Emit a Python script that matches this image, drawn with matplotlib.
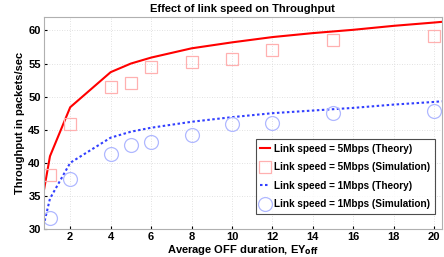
import matplotlib
matplotlib.use("Agg")
import matplotlib.pyplot as plt

# Theory curves
x_theory = [0.68, 1, 2, 4, 5, 6, 8, 10, 12, 14, 16, 18, 20, 20.37]
y5_theory = [35.5, 41.0, 48.4, 53.7, 55.0, 55.9, 57.3, 58.2, 59.0, 59.6, 60.1, 60.7, 61.2, 61.3]
y1_theory = [30.5, 34.6, 40.0, 43.8, 44.7, 45.3, 46.2, 46.9, 47.5, 47.9, 48.3, 48.8, 49.2, 49.3]

# Simulation points
x_sim = [1, 2, 4, 5, 6, 8, 10, 12, 15, 20]
y5_sim = [38.2, 45.9, 51.5, 52.1, 54.5, 55.2, 55.7, 57.1, 58.5, 59.1]
y1_sim = [31.6, 37.5, 41.3, 42.7, 43.1, 44.2, 45.9, 46.0, 47.6, 47.9]

xticks = [2, 4, 6, 8, 10, 12, 14, 16, 18, 20]
yticks = [30, 35, 40, 45, 50, 55, 60]

plt.rcParams['font.family'] = ['Liberation Sans', 'DejaVu Sans']
plt.rcParams['font.weight'] = 'bold'

fig = plt.figure(figsize=(4.44, 2.57), dpi=100)
ax = fig.add_axes([0.098, 0.109, 0.897, 0.824])

ax.plot(x_theory, y5_theory, color='#ff0000', lw=1.5, label='Link speed = 5Mbps (Theory)')
ax.plot(x_sim, y5_sim, ls='none', marker='s', ms=8, mfc='none', mec='#ffb0b0', mew=0.9,
        label='Link speed = 5Mbps (Simulation)')
ax.plot(x_theory, y1_theory, color='#3340ff', lw=1.5, ls=(0, (1.2, 1.2)), label='Link speed = 1Mbps (Theory)')
ax.plot(x_sim, y1_sim, ls='none', marker='o', ms=10, mfc='none', mec='#b0b8ff', mew=0.9,
        label='Link speed = 1Mbps (Simulation)')

ax.set_xlim(0.68, 20.37)
ax.set_ylim(30, 62)
ax.set_xticks(xticks)
ax.set_yticks(yticks)
ax.tick_params(labelsize=8, length=2, direction='in', pad=2)
for lab in ax.get_xticklabels() + ax.get_yticklabels():
    lab.set_fontweight('bold')
ax.grid(True, color='#d8d8d8', ls=(0, (1, 2)), lw=0.6)
for s in ax.spines.values():
    s.set_color('#b0b0b0')
    s.set_linewidth(0.8)

ax.set_title('Effect of link speed on Throughput', fontsize=8, fontweight='bold', pad=4)
ax.set_xlabel('Average OFF duration, EY$_{\\mathbf{off}}$', fontsize=8, fontweight='bold', labelpad=1)
ax.set_ylabel('Throughput in packets/sec', fontsize=8, fontweight='bold', labelpad=2)

leg = ax.legend(loc='lower right', bbox_to_anchor=(0.983, 0.071), borderaxespad=0, fontsize=7.2,
                frameon=True, fancybox=False, edgecolor='#202020', handlelength=1.0,
                handletextpad=0.4, borderpad=0.45, labelspacing=0.85)
leg.get_frame().set_linewidth(0.8)
for t in leg.get_texts():
    t.set_fontweight('bold')

fig.savefig('out.png', dpi=100)
